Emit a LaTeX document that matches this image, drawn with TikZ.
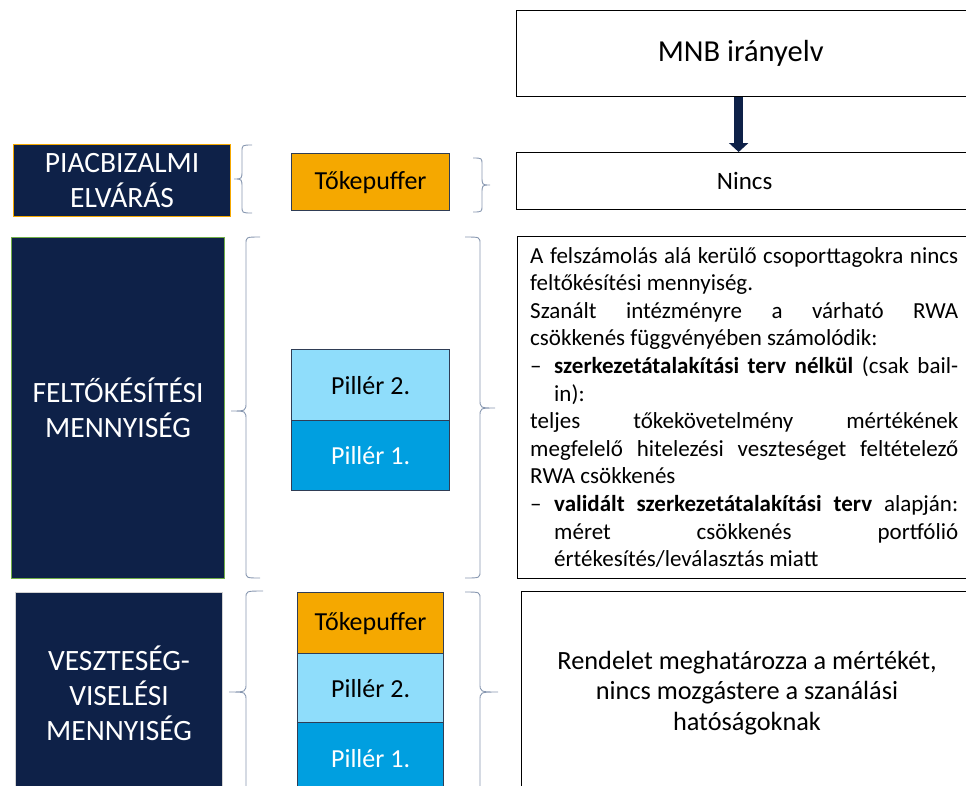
\documentclass[tikz,border=0pt]{standalone}
\usepackage{fontspec}
\setmainfont{Carlito}
\usetikzlibrary{arrows.meta}
\definecolor{navy}{HTML}{0E2148}
\definecolor{orng}{HTML}{F5A800}
\definecolor{lblue}{HTML}{8FDDFB}
\definecolor{mblue}{HTML}{009FE0}
\definecolor{brc}{HTML}{8797B0}
\definecolor{stkc}{HTML}{2F3D55}
\definecolor{grn}{HTML}{70AD47}
\newcommand\mybrace[6]{% tip x, vertical x, hook x, top, bottom, tip y
  \draw[bracel] (#3,#4) .. controls (#2,#4) .. (#2,#4+7) -- (#2,#6-9)
    .. controls (#2,#6) .. (#1,#6) .. controls (#2,#6) .. (#2,#6+9)
    -- (#2,#5-7) .. controls (#2,#5) .. (#3,#5);}
\begin{document}
\begin{tikzpicture}[x=1pt,y=-1pt,
  cat/.style={fill=navy, text=white, inner sep=0pt, align=center, anchor=north west,
    font=\fontsize{29.5}{35}\selectfont, line width=1.2pt},
  wbox/.style={draw=black, fill=white, line width=1.3pt, inner sep=0pt, anchor=north west},
  stkbox/.style={draw=stkc, line width=1.2pt, inner sep=0pt, anchor=north west,
    font=\fontsize{26}{30}\selectfont},
  bracel/.style={draw=brc, line width=0.9pt}]
\clip (0,0) rectangle (966,785);
\useasboundingbox (0,0) rectangle (966,785);

% left category boxes
\node[cat, draw=orng, minimum width=217pt, minimum height=72pt] (piac) at (13,144) {PIACBIZALMI\\ELVÁRÁS};
\node[cat, draw=grn, minimum width=213pt, minimum height=341pt] (felt) at (11,237) {FELTŐKÉSÍTÉSI\\MENNYISÉG};
\node[cat, draw=gray!35, minimum width=207pt, minimum height=202pt] (vesz) at (15,592) {VESZTESÉG-\\VISELÉSI\\MENNYISÉG};

% braces
\mybrace{234}{242}{252}{145}{213}{179}
\mybrace{231}{246}{260}{237}{578}{411}
\mybrace{229}{246}{263}{591}{793}{692}
\mybrace{490}{482}{473}{158}{212}{185}
\mybrace{495}{480}{465}{237}{578}{408}
\mybrace{498}{480}{465}{592}{793}{692}

% middle stacks
\node[stkbox, fill=orng, minimum width=158pt, minimum height=57pt] (tp1) at (291,153) {Tőkepuffer};
\node[stkbox, fill=lblue, minimum width=158pt, minimum height=71pt] (p21) at (291,349) {Pillér 2.};
\node[stkbox, fill=mblue, text=white, minimum width=158pt, minimum height=70pt] (p11) at (291,420) {Pillér 1.};
\node[stkbox, fill=orng, minimum width=146pt, minimum height=61pt] (tp2) at (297,592) {Tőkepuffer};
\node[stkbox, fill=lblue, minimum width=146pt, minimum height=69pt] (p22) at (297,653) {Pillér 2.};
\node[stkbox, fill=mblue, text=white, minimum width=146pt, minimum height=72pt] (p12) at (297,722) {Pillér 1.};

% right column
\node[wbox, minimum width=454pt, minimum height=86pt, font=\fontsize{30.5}{34}\selectfont] (mnb) at (516,10) {\hspace*{-6pt}MNB irányelv};
\node[wbox, minimum width=454pt, minimum height=57pt, font=\fontsize{25}{30}\selectfont] (nincs) at (516,152) {\hspace*{2pt}Nincs};
\draw[navy, line width=9pt, -{Triangle[width=19pt,length=9pt]}] ([xshift=-5pt]mnb.south) -- ([xshift=-5pt]nincs.north);

\node[wbox, minimum width=454pt, minimum height=342pt] (txtbox) at (517,236) {};
\node[anchor=north west, inner sep=0pt, align=left, font=\fontsize{23}{27.6}\selectfont] (body) at (530,247) {%
\makebox[428pt][s]{A felszámolás alá kerülő csoporttagokra nincs}\\
feltőkésítési mennyiség.\\
\makebox[428pt][s]{Szanált intézményre a várható RWA}\\
csökkenés függvényében számolódik:\\
\makebox[24pt][l]{–}\makebox[404pt][s]{\textbf{szerkezetátalakítási terv nélkül} (csak bail-}\\
\hspace*{24pt}in):\\
\makebox[428pt][s]{teljes tőkekövetelmény mértékének}\\
\makebox[428pt][s]{megfelelő hitelezési veszteséget feltételező}\\
RWA csökkenés\\
\makebox[24pt][l]{–}\makebox[404pt][s]{\textbf{validált szerkezetátalakítási terv} alapján:}\\
\hspace*{24pt}\makebox[404pt][s]{méret csökkenés portfólió}\\
\hspace*{24pt}értékesítés/leválasztás miatt};

\node[wbox, minimum width=450pt, minimum height=220pt] (rend) at (521,591) {};
\node[align=center, inner sep=0pt, font=\fontsize{26.3}{30.5}\selectfont] (rendt) at (747,693) {Rendelet meghatározza a mértékét,\\nincs mozgástere a szanálási\\hatóságoknak};
\end{tikzpicture}
\end{document}
